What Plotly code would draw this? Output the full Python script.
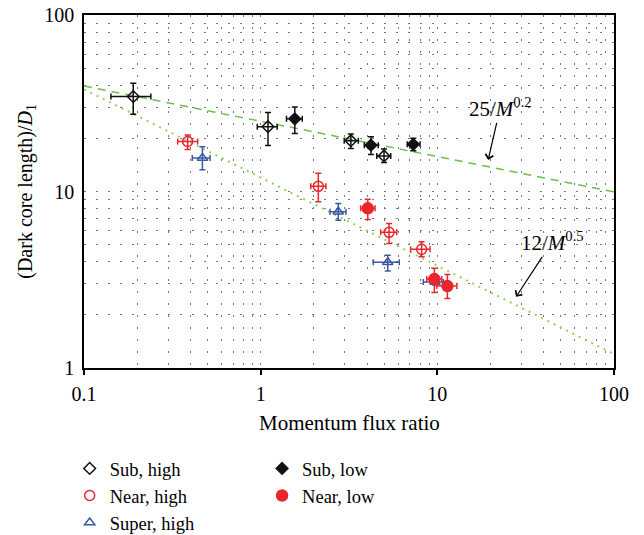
import math
import plotly.graph_objects as go

# ---- measured data: momentum flux ratio vs dark core length / D1 ----
sub_high_x = [0.19, 1.10, 3.24, 4.99]
sub_high_y = [34.5, 23.3, 19.4, 15.9]
sub_high_xlo = [0.142, 0.957, 2.97, 4.54]
sub_high_xhi = [0.239, 1.24, 3.57, 5.45]
sub_high_ylo = [27.4, 18.2, 17.5, 14.6]
sub_high_yhi = [41.0, 28.0, 21.2, 17.4]

near_high_x = [0.386, 2.12, 5.33, 8.15]
near_high_y = [19.2, 10.7, 5.87, 4.70]
near_high_xlo = [0.339, 1.92, 4.78, 7.06]
near_high_xhi = [0.44, 2.34, 5.89, 9.09]
near_high_ylo = [17.3, 8.76, 5.08, 4.27]
near_high_yhi = [20.9, 12.7, 6.59, 5.19]

super_high_x = [0.468, 2.75, 5.24, 9.70]
super_high_y = [15.5, 7.68, 3.97, 3.07]
super_high_xlo = [0.41, 2.47, 4.34, 8.33]
super_high_xhi = [0.517, 3.04, 6.09, 10.8]
super_high_ylo = [13.3, 6.88, 3.55, 2.95]
super_high_yhi = [17.9, 8.55, 4.36, 3.20]

sub_low_x = [1.56, 4.21, 7.31]
sub_low_y = [25.8, 18.3, 18.5]
sub_low_xlo = [1.40, 3.86, 6.76]
sub_low_xhi = [1.72, 4.63, 7.98]
sub_low_ylo = [21.3, 16.2, 17.0]
sub_low_yhi = [30.1, 20.4, 20.0]

near_low_x = [4.04, 9.62, 11.4]
near_low_y = [8.03, 3.19, 2.91]
near_low_xlo = [3.68, 8.71, 9.92]
near_low_xhi = [4.44, 10.6, 12.9]
near_low_ylo = [6.93, 2.68, 2.48]
near_low_yhi = [9.05, 3.67, 3.39]

# correlation lines, evaluated over the x-axis range
fit_m = [0.1, 100]
fit_a = [25 / m ** 0.2 for m in fit_m]
fit_b = [12 / m ** 0.5 for m in fit_m]

# points the correlation labels point at
label_a_at = (19.4, 15.1)
label_b_at = (27.9, 2.53)

# decade and sub-decade grid positions
decade_vals = [0.1, 1, 10, 100]
ydecade_vals = [1, 10, 100]
xminor = [d * k for d in [0.1, 1, 10] for k in range(2, 10)]
yminor = [d * k for d in [1, 10] for k in range(2, 10)]

SERIF = "Liberation Serif"
BLACK = "#111111"
RED = "#e8262b"
BLUE = "#3b58a6"
GREEN = "#6cc04a"
GREEN_LIGHT = "#8fd35f"


def err(v, lo, hi):
    return ([h - c for c, h in zip(v, hi)], [c - l for c, l in zip(v, lo)])


def series(name, x, y, xlo, xhi, ylo, yhi, color, symbol, size, legend):
    xp, xm = err(x, xlo, xhi)
    yp, ym = err(y, ylo, yhi)
    return go.Scatter(
        x=x, y=y, mode="markers", name=name, legend=legend,
        marker=dict(symbol=symbol, size=size, color=color,
                    line=dict(color=color, width=1.5)),
        error_x=dict(type="data", symmetric=False, array=xp, arrayminus=xm,
                     color=color, thickness=1.5, width=3),
        error_y=dict(type="data", symmetric=False, array=yp, arrayminus=ym,
                     color=color, thickness=1.5, width=3),
    )


fig = go.Figure()

fig.add_trace(go.Scatter(x=fit_m, y=fit_a, mode="lines", showlegend=False,
                         line=dict(color=GREEN, width=1.5, dash="8px,6px")))
fig.add_trace(go.Scatter(x=fit_m, y=fit_b, mode="lines", showlegend=False,
                         line=dict(color=GREEN_LIGHT, width=2, dash="2px,5px")))

fig.add_trace(series("Sub, high", sub_high_x, sub_high_y, sub_high_xlo, sub_high_xhi,
                     sub_high_ylo, sub_high_yhi, BLACK, "diamond-open", 9, "legend"))
fig.add_trace(series("Near, high", near_high_x, near_high_y, near_high_xlo, near_high_xhi,
                     near_high_ylo, near_high_yhi, RED, "circle-open", 10, "legend"))
fig.add_trace(series("Super, high", super_high_x, super_high_y, super_high_xlo, super_high_xhi,
                     super_high_ylo, super_high_yhi, BLUE, "triangle-up-open", 9, "legend"))
fig.add_trace(series("Sub, low", sub_low_x, sub_low_y, sub_low_xlo, sub_low_xhi,
                     sub_low_ylo, sub_low_yhi, BLACK, "diamond", 9, "legend2"))
fig.add_trace(series("Near, low", near_low_x, near_low_y, near_low_xlo, near_low_xhi,
                     near_low_ylo, near_low_yhi, RED, "circle", 11, "legend2"))

grid_common = dict(gridcolor="#777777", gridwidth=1, griddash="2px,10px")

fig.update_xaxes(
    type="log", range=[-1, 2], automargin=False,
    tickvals=decade_vals, ticktext=["0.1", "1", "10", "100"],
    ticks="outside", ticklen=5, tickcolor="black", tickwidth=1.5,
    ticklabelstandoff=2,
    showline=True, linecolor="black", linewidth=1.5, mirror=True,
    showgrid=True, **grid_common,
    minor=dict(tickvals=xminor, showgrid=True, ticks="", **grid_common),
    tickfont=dict(family=SERIF, size=20, color="black"),
    zeroline=False,
)
fig.update_yaxes(
    type="log", range=[0, 2], automargin=False,
    tickvals=ydecade_vals, ticktext=["1", "10", "100"],
    ticks="", ticklabelstandoff=4,
    showline=True, linecolor="black", linewidth=1.5, mirror=True,
    showgrid=True, **grid_common,
    minor=dict(tickvals=yminor, showgrid=True, ticks="", **grid_common),
    tickfont=dict(family=SERIF, size=20, color="black"),
    zeroline=False,
)

title_font = dict(family=SERIF, size=21, color="black")
fig.add_annotation(
    text="Momentum flux ratio", xref="paper", yref="paper", x=0.5, y=-0.156,
    showarrow=False, font=title_font, xanchor="center", yanchor="middle",
)
fig.add_annotation(
    text="(Dark core length)/<i>D</i><sub>1</sub>", textangle=-90,
    xref="paper", yref="paper", x=-0.109, y=0.5, showarrow=False,
    font=dict(family=SERIF, size=20, color="black"), xanchor="center", yanchor="middle",
)

note_font = dict(family=SERIF, size=21, color="black")
fig.add_annotation(
    text="25/<i>M</i><sup>0.2</sup>",
    x=math.log10(label_a_at[0]), y=math.log10(label_a_at[1]), xref="x", yref="y",
    showarrow=True, arrowhead=4, arrowsize=1.3, arrowwidth=1.2, arrowcolor="black",
    ax=12, ay=-52, font=note_font,
)
fig.add_annotation(
    text="12/<i>M</i><sup>0.5</sup>",
    x=math.log10(label_b_at[0]), y=math.log10(label_b_at[1]), xref="x", yref="y",
    showarrow=True, arrowhead=4, arrowsize=1.3, arrowwidth=1.2, arrowcolor="black",
    ax=36, ay=-55, font=note_font,
)

legend_font = dict(family=SERIF, size=18.5, color="black")
fig.update_layout(
    width=644, height=535,
    margin=dict(l=84, r=30, t=15, b=167, autoexpand=False),
    paper_bgcolor="white", plot_bgcolor="white",
    legend=dict(x=-0.027, y=-0.232, xanchor="left", yanchor="top", orientation="v",
                font=legend_font, bgcolor="rgba(0,0,0,0)", tracegroupgap=0),
    legend2=dict(x=0.336, y=-0.232, xanchor="left", yanchor="top", orientation="v",
                 font=legend_font, bgcolor="rgba(0,0,0,0)", tracegroupgap=0),
)

fig.write_html("out.html")
